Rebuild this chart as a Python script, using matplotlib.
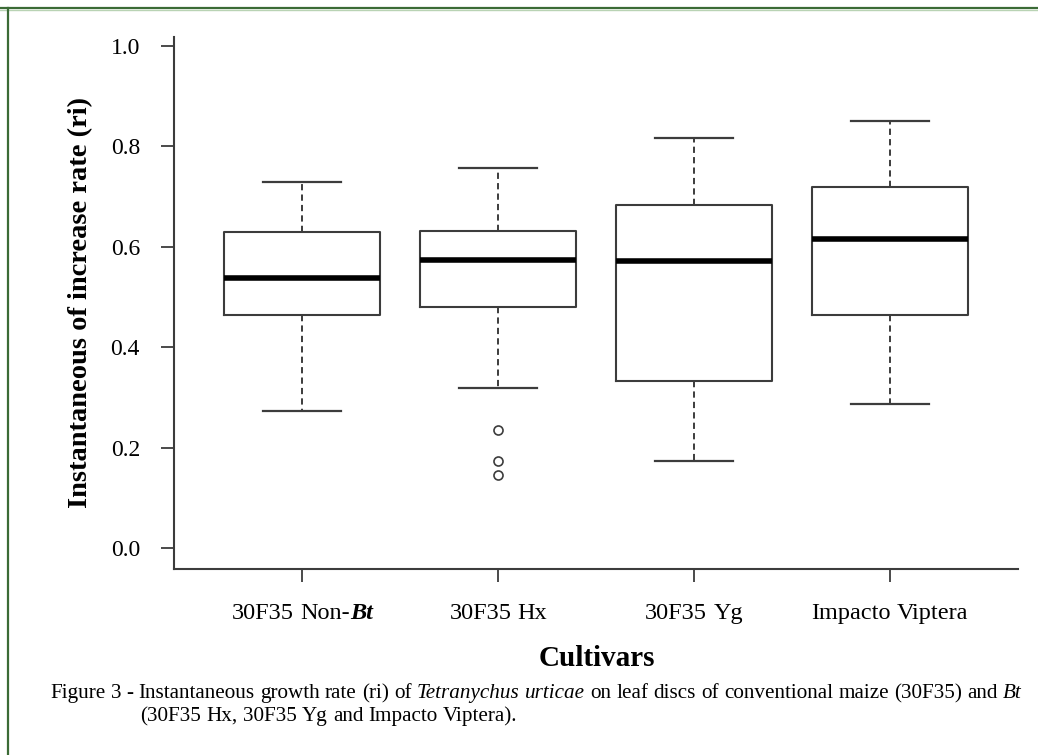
import matplotlib
matplotlib.use("Agg")
import matplotlib.pyplot as plt
from matplotlib.lines import Line2D

# ---- data ----
categories = ["30F35 Non-Bt", "30F35 Hx", "30F35 Yg", "Impacto Viptera"]
whisker_low = [0.273, 0.318, 0.174, 0.288]
q1 = [0.464, 0.480, 0.333, 0.464]
median = [0.538, 0.574, 0.572, 0.615]
q3 = [0.630, 0.631, 0.683, 0.718]
whisker_high = [0.729, 0.757, 0.816, 0.850]
outliers = [[], [0.236, 0.174, 0.146], [], []]
yticks = [0.0, 0.2, 0.4, 0.6, 0.8, 1.0]

plt.rcParams["font.family"] = ["Liberation Serif", "DejaVu Serif"]
plt.rcParams["lines.scale_dashes"] = False

W, H = 1038, 755
fig = plt.figure(figsize=(W / 100, H / 100), dpi=100)
fig.patch.set_facecolor("white")

left, right = 174 / W, 1018 / W
bottom, top = 1 - 569.3 / H, 1 - 37 / H
ax = fig.add_axes([left, bottom, right - left, top - bottom])

stats = []
for i in range(len(categories)):
    stats.append(dict(med=median[i], q1=q1[i], q3=q3[i],
                      whislo=whisker_low[i], whishi=whisker_high[i],
                      fliers=outliers[i], label=categories[i]))

dark = "#3c3c3c"
ax.bxp(stats, positions=[1, 2, 3, 4], widths=0.8, capwidths=0.4,
       showfliers=True, patch_artist=False,
       boxprops=dict(color=dark, linewidth=1.5),
       whiskerprops=dict(color=dark, linewidth=1.4, linestyle=(0, (4.5, 3.0))),
       capprops=dict(color=dark, linewidth=1.6),
       medianprops=dict(color="black", linewidth=4.0, solid_capstyle="butt"),
       flierprops=dict(marker="o", markerfacecolor="none",
                       markeredgecolor=dark, markersize=6.5, markeredgewidth=1.2))

ax.set_xlim(0.347, 4.653)
ax.set_ylim(-0.0418, 1.0173)
ax.set_yticks(yticks)
ax.set_yticklabels([f"{v:.1f}" for v in yticks], fontsize=17)
ax.set_xticks([1, 2, 3, 4])
ax.set_xticklabels([""] * 4)
for s in ["top", "right"]:
    ax.spines[s].set_visible(False)
for s in ["left", "bottom"]:
    ax.spines[s].set_color(dark)
    ax.spines[s].set_linewidth(1.5)
ax.tick_params(axis="both", direction="out", length=9.5, width=1.3, color=dark)
ax.tick_params(axis="y", pad=15)

fig.canvas.draw()
renderer = fig.canvas.get_renderer()

# y axis title
fig.text(81 / W, 1 - 303 / H, "Instantaneous of increase rate (ri)", fontsize=20.5,
         fontweight="bold", rotation=90, ha="center", va="center")


def text_width(s, **kw):
    t = fig.text(0, 0, s, **kw)
    w = t.get_window_extent(renderer).width
    t.remove()
    return w


def rich_text(x_px, base_px, pieces, size, ha="center"):
    """pieces: list of (text, style, weight); drawn on a common baseline."""
    widths = []
    for txt, st, wt in pieces:
        if txt == " ":
            a = text_width("x x", fontsize=size, style=st, weight=wt)
            b = text_width("xx", fontsize=size, style=st, weight=wt)
            widths.append(a - b)
        else:
            widths.append(text_width(txt, fontsize=size, style=st, weight=wt))
    total = sum(widths)
    x = x_px - total / 2 if ha == "center" else x_px
    for (txt, st, wt), w in zip(pieces, widths):
        if txt != " ":
            fig.text(x / W, 1 - base_px / H, txt, fontsize=size, style=st,
                     weight=wt, ha="left", va="baseline")
        x += w


# x tick labels
xpos_px = [302.5, 498.3, 694.1, 889.9]
lab_pieces = [
    [("30F35", "normal", "normal"), (" ", "normal", "normal"),
     ("Non-", "normal", "normal"), ("Bt", "italic", "bold")],
    [("30F35", "normal", "normal"), (" ", "normal", "normal"), ("Hx", "normal", "normal")],
    [("30F35", "normal", "normal"), (" ", "normal", "normal"), ("Yg", "normal", "normal")],
    [("Impacto", "normal", "normal"), (" ", "normal", "normal"), ("Viptera", "normal", "normal")],
]
for xp, pcs in zip(xpos_px, lab_pieces):
    rich_text(xp, 619, pcs, 17.5)

# x axis title
fig.text(597 / W, 1 - 658 / H, "Cultivars", fontsize=21, fontweight="bold",
         ha="center", va="center")

# caption
R, I = ("normal", "normal"), ("italic", "normal")
def words(s, st):
    out = []
    for k, w in enumerate(s.split(" ")):
        if k:
            out.append((" ",) + st)
        out.append((w,) + st)
    return out

line1 = (words("Figure 3 - Instantaneous growth rate (ri) of", R) + [(" ",) + R]
         + words("Tetranychus urticae", I) + [(" ",) + R]
         + words("on leaf discs of conventional maize (30F35) and", R) + [(" ",) + R]
         + [("Bt",) + I])
rich_text(50, 698, line1, 15.2, ha="left")
line2 = words("(30F35 Hx, 30F35 Yg and Impacto Viptera).", R)
rich_text(140, 721, line2, 15.2, ha="left")

# green frame (top and left edges)
green = "#3b6b36"
fig.add_artist(Line2D([0, 1], [1 - 8 / H, 1 - 8 / H], transform=fig.transFigure,
                      color=green, linewidth=1.6))
fig.add_artist(Line2D([0, 1], [1 - 10 / H, 1 - 10 / H], transform=fig.transFigure,
                      color="#b9d3b4", linewidth=1.0))
fig.add_artist(Line2D([8 / W, 8 / W], [0, 1 - 8 / H], transform=fig.transFigure,
                      color=green, linewidth=1.6))

fig.savefig("out.png", dpi=100)
